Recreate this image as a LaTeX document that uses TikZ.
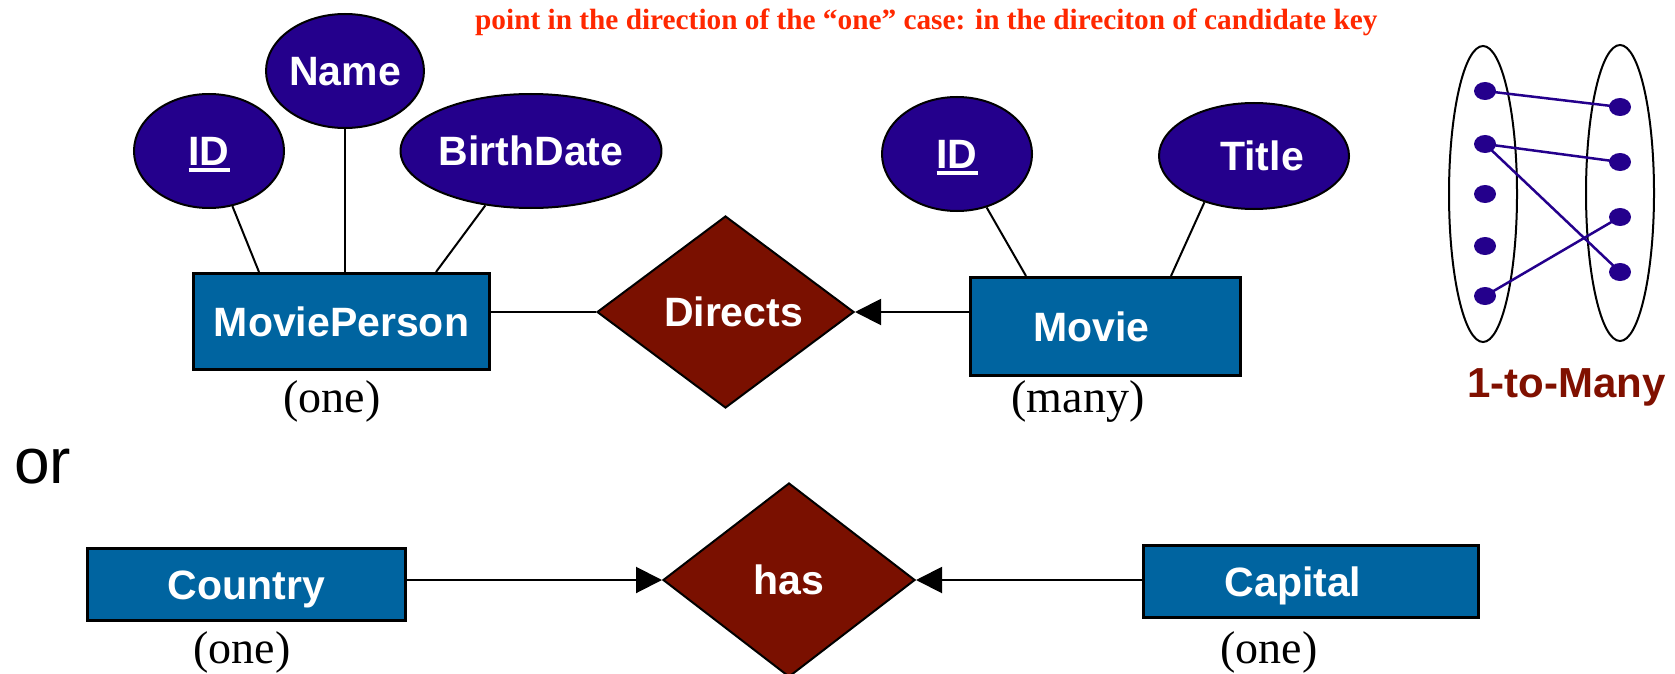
\documentclass[tikz,border=0pt]{standalone}
\usepackage{fontspec}
\setmainfont{Liberation Serif}
\setsansfont{Liberation Sans}
\usetikzlibrary{shapes.geometric,arrows.meta,calc}

\definecolor{attrfill}{RGB}{36,0,140}
\definecolor{entityfill}{RGB}{0,100,160}
\definecolor{relfill}{RGB}{122,16,0}
\definecolor{notered}{RGB}{255,40,0}
\definecolor{mapred}{RGB}{128,16,0}

% key attribute: text with a thick underline
\newcommand\keyattr[1]{\setbox0\hbox{#1}\rlap{\rule[-6pt]{\wd0}{4pt}}\box0}

\tikzset{
  lbl/.style={font=\sffamily\bfseries\fontsize{41}{41}\selectfont, text=white,
              text height=29.5pt, text depth=0pt},
  entity/.style={lbl, draw=black, line width=3pt, fill=entityfill, rectangle, inner sep=0pt},
  attr/.style={lbl, draw=black, line width=2pt, fill=attrfill, ellipse, inner sep=0pt, minimum height=114pt},
  rel/.style={lbl, draw=black, line width=2pt, fill=relfill, diamond, inner sep=0pt},
  card/.style={font=\rmfamily\fontsize{46}{46}\selectfont, anchor=base, inner sep=0pt},
  link/.style={line width=2pt},
  onearrow/.style={line width=2pt, -{Triangle[length=26pt,width=26pt]}},
  setoval/.style={draw=black, line width=2pt, ellipse, minimum width=68pt, minimum height=296pt, inner sep=0pt},
  elem/.style={fill=attrfill, ellipse, minimum width=22pt, minimum height=18pt, inner sep=0pt},
  pairing/.style={draw=attrfill, line width=2.5pt},
}

\begin{document}
\begin{tikzpicture}[x=1pt, y=-1pt]
\useasboundingbox (0,0) rectangle (1675,674);

% note at the top
\node[anchor=base west, inner sep=0pt, text=notered,
      font=\rmfamily\bfseries\fontsize{29.3}{29.3}\selectfont] (note) at (475,30)
  {point in the direction of the “one” case: in the direciton of candidate key};

% ---- MoviePerson --Directs--> Movie ----
\node[entity, minimum width=296pt, minimum height=96pt] (mp) at (341.5,321.5) {MoviePerson};
\node[attr, minimum width=150pt] (pid) at (209,151) {\keyattr{ID}};
\node[attr, minimum width=150pt] (pname) at (345,71) {Name};
\node[attr, minimum width=238pt] (pbirth) at (531,151) {BirthDate};

\node[rel, minimum width=257pt, minimum height=192pt] (directs) at (725.5,312) {\hspace*{16pt}Directs};

\node[entity, minimum width=270pt, minimum height=98pt] (movie) at (1105.5,326.5) {\hspace*{-28pt}Movie};
\node[attr, minimum width=150pt] (mid) at (957,154) {\keyattr{ID}};
\node[attr, minimum width=190pt, minimum height=106pt] (mtitle) at (1254,156) {\hspace*{16pt}Title};

\draw[link] (pid.-67) -- ([xshift=67pt]mp.north west);
\draw[link] (pname.south) -- (pname.south |- mp.north);
\draw[link] (pbirth.-130) -- ([xshift=244pt]mp.north west);
\draw[link] (mid.-61) -- ([xshift=57pt]movie.north west);
\draw[link] (mtitle.-137) -- ([xshift=202pt]movie.north west);

\draw[link] (mp.east |- directs.west) -- (directs.west);
\draw[onearrow] (movie.west |- directs.east) -- (directs.east);

\node[card] (mpcard) at (332,412) {(one)};
\node[card] (moviecard) at (1078,412) {(many)};

% ---- or ----
\node[anchor=base west, inner sep=0pt, font=\sffamily\fontsize{64}{64}\selectfont] (or) at (14,483) {or};

% ---- Country --has-- Capital ----
\node[entity, minimum width=318pt, minimum height=72pt] (country) at (246.5,584.5) {Country};
\node[rel, minimum width=252pt, minimum height=194pt] (has) at (789,580) {has};
\node[entity, minimum width=335pt, minimum height=72pt] (capital) at (1311,581.5) {\hspace*{-36pt}Capital};

\draw[onearrow] (country.east |- has.west) -- (has.west);
\draw[onearrow] (capital.west |- has.east) -- (has.east);

\node[card] (countrycard) at (242,663) {(one)};
\node[card] (capitalcard) at (1269,663) {(one)};

% ---- 1-to-many mapping sketch ----
\node[setoval] (lset) at (1483,194) {};
\node[setoval] (rset) at (1620,193) {};

\node[elem] (l1) at (1485,91) {};
\node[elem] (l2) at (1485,144) {};
\node[elem] (l3) at (1485,194) {};
\node[elem] (l4) at (1485,246) {};
\node[elem] (l5) at (1485,296) {};
\node[elem] (r1) at (1620,107) {};
\node[elem] (r2) at (1620,162) {};
\node[elem] (r3) at (1620,217) {};
\node[elem] (r4) at (1620,272) {};

\draw[pairing] (l1.center) -- (r1.center);
\draw[pairing] (l2.center) -- (r2.center);
\draw[pairing] (l2.center) -- (r4.center);
\draw[pairing] (l5.center) -- (r3.center);

\node[anchor=base west, inner sep=0pt, text=mapred,
      font=\sffamily\bfseries\fontsize{42}{42}\selectfont] (maplabel) at (1467,397) {1-to-Many};
\end{tikzpicture}
\end{document}
